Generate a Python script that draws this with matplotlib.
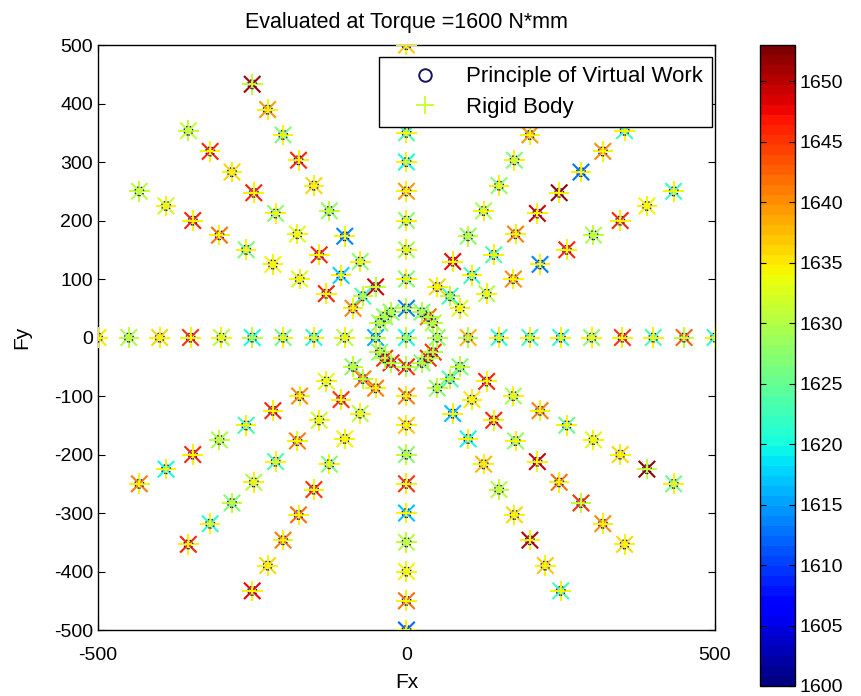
import numpy as np
import matplotlib
matplotlib.use('Agg')
import matplotlib.pyplot as plt
from matplotlib.lines import Line2D

plt.rcParams['font.family'] = ['Liberation Sans', 'DejaVu Sans']
plt.rcParams['axes.unicode_minus'] = False

# load directions (deg) and magnitudes (N)
angles = [0, 30, 45, 60, 90, 120, 135, 150, 180, 210, 225, 240, 270, 300, 315, 330]
radii = [50, 100, 150, 200, 250, 300, 350, 400, 450, 500]

# torque value per point, 'x' marker (rows follow angles, columns follow radii)
torque_x = [
    [1628, 1638, 1622, 1623, 1622, 1628, 1645, 1624, 1643, 1622],
    [1630, 1633, 1630, 1640, 1614, 1646, 1629, 1646, 1634, 1623],
    [1642, 1623, 1623, 1624, 1641, 1649, 1652, 1613, 1640, 1623],
    [1627, 1636, 1648, 1628, 1629, 1628, 1627, 1639, 1630, 1630],
    [1614, 1627, 1629, 1628, 1639, 1620, 1624, 1630, 1630, 1637],
    [1628, 1649, 1628, 1614, 1628, 1636, 1646, 1627, 1639, 1651],
    [1628, 1623, 1618, 1646, 1633, 1628, 1646, 1636, 1646, 1631],
    [1628, 1640, 1646, 1633, 1634, 1627, 1642, 1646, 1632, 1630],
    [1616, 1630, 1621, 1626, 1620, 1630, 1645, 1636, 1629, 1635],
    [1628, 1628, 1633, 1640, 1646, 1623, 1629, 1646, 1620, 1641],
    [1645, 1641, 1645, 1632, 1641, 1624, 1630, 1627, 1622, 1646],
    [1646, 1641, 1630, 1634, 1627, 1645, 1642, 1641, 1636, 1648],
    [1645, 1641, 1637, 1627, 1645, 1617, 1630, 1634, 1642, 1612],
    [1627, 1628, 1617, 1620, 1638, 1630, 1636, 1650, 1637, 1623],
    [1645, 1624, 1635, 1646, 1628, 1649, 1642, 1645, 1640, 1636],
    [1645, 1627, 1646, 1629, 1641, 1625, 1633, 1636, 1652, 1626],
]

# rigid body torque per point, '+' marker
torque_rb = [
    [1630, 1630, 1634, 1634, 1634, 1634, 1634, 1634, 1631, 1634],
    [1630, 1634, 1634, 1634, 1634, 1634, 1631, 1634, 1634, 1634],
    [1630, 1631, 1634, 1634, 1634, 1634, 1634, 1634, 1634, 1634],
    [1630, 1634, 1634, 1631, 1634, 1634, 1634, 1634, 1634, 1634],
    [1630, 1634, 1634, 1634, 1634, 1634, 1634, 1634, 1634, 1634],
    [1630, 1631, 1634, 1634, 1631, 1634, 1634, 1634, 1634, 1631],
    [1630, 1631, 1634, 1634, 1634, 1634, 1634, 1634, 1634, 1631],
    [1630, 1634, 1634, 1634, 1634, 1634, 1634, 1634, 1634, 1631],
    [1631, 1634, 1634, 1634, 1631, 1634, 1634, 1634, 1631, 1634],
    [1630, 1631, 1634, 1634, 1634, 1634, 1631, 1634, 1634, 1634],
    [1630, 1631, 1634, 1634, 1634, 1634, 1634, 1631, 1634, 1634],
    [1630, 1634, 1634, 1634, 1634, 1634, 1634, 1634, 1634, 1634],
    [1630, 1634, 1634, 1631, 1634, 1634, 1631, 1634, 1634, 1634],
    [1630, 1631, 1634, 1634, 1634, 1631, 1634, 1634, 1634, 1634],
    [1630, 1631, 1634, 1634, 1634, 1634, 1634, 1631, 1634, 1634],
    [1630, 1631, 1634, 1634, 1634, 1634, 1634, 1634, 1631, 1634],
]

origin_x = 1620
origin_rb = 1631

cmap = plt.get_cmap('jet', 64)
vmin, vmax = 1600, 1653

# build point lists
fx, fy, cx, crb = [0.0], [0.0], [origin_x], [origin_rb]
for i, a in enumerate(angles):
    for j, r in enumerate(radii):
        fx.append(r * np.cos(np.radians(a)))
        fy.append(r * np.sin(np.radians(a)))
        cx.append(torque_x[i][j])
        crb.append(torque_rb[i][j])

fig = plt.figure(figsize=(8.61, 6.96), dpi=100)
ax = fig.add_axes([0.1138, 0.0948, 0.7166, 0.8405])

ax.scatter(fx, fy, c=cx, cmap=cmap, vmin=vmin, vmax=vmax, marker='x', s=140, linewidths=1.5, zorder=2)
sc = ax.scatter(fx, fy, c=crb, cmap=cmap, vmin=vmin, vmax=vmax, marker='+', s=220, linewidths=1.5, zorder=3)
ax.scatter(fx, fy, marker='o', s=40, facecolors='none', edgecolors='#14145a', linewidths=1.0,
           linestyle=':', zorder=4)

ax.set_xlim(-500, 500)
ax.set_ylim(-500, 500)
ax.set_xticks([-500, 0, 500])
ax.set_yticks(np.arange(-500, 501, 100))
ax.tick_params(direction='in', top=True, right=True, length=5, labelsize=14)
ax.tick_params(axis='x', pad=12)
for sp in ax.spines.values():
    sp.set_linewidth(1.0)

ax.set_title('Evaluated at Torque =1600 N*mm', fontsize=15.5, pad=12)
ax.set_xlabel('Fx', fontsize=15, labelpad=7)
ax.set_ylabel('Fy', fontsize=15, labelpad=16)

handles = [
    Line2D([], [], marker='o', linestyle='none', markerfacecolor='none', markeredgecolor='#14145a',
           markersize=9, markeredgewidth=1.4, label='Principle of Virtual Work'),
    Line2D([], [], marker='+', linestyle='none', color='#ccff33', markersize=13,
           markeredgewidth=1.4, label='Rigid Body'),
]
leg = ax.legend(handles=handles, loc='upper right', bbox_to_anchor=(712 / 861, 1 - 57 / 696),
                bbox_transform=fig.transFigure, borderaxespad=0, fontsize=16, frameon=True,
                fancybox=False, edgecolor='black', framealpha=1, handlelength=3.3,
                handletextpad=0.2, borderpad=0.42, labelspacing=0.42)
leg.get_frame().set_linewidth(1.0)
leg.set_zorder(10)

cax = fig.add_axes([0.8827, 0.0144, 0.0407, 0.9209])
cb = fig.colorbar(sc, cax=cax)
cb.set_ticks(np.arange(1600, 1651, 5))
cax.tick_params(direction='in', left=True, right=True, length=4, labelsize=14)
cb.outline.set_linewidth(1.0)

fig.savefig('out.png', dpi=100)
